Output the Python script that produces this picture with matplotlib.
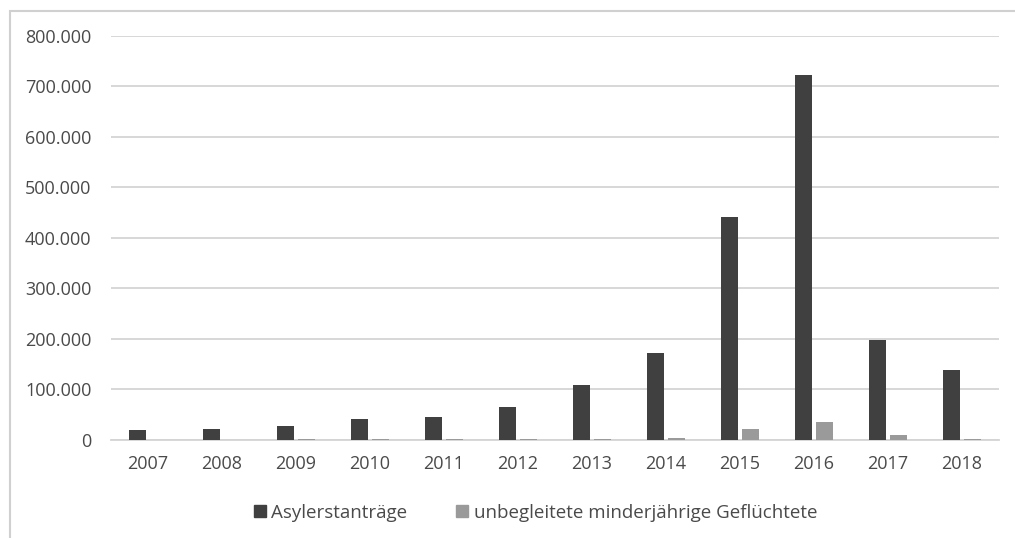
import matplotlib
matplotlib.use("Agg")
import matplotlib.pyplot as plt
from matplotlib.patches import Rectangle
from matplotlib.lines import Line2D
from matplotlib.ticker import FuncFormatter
import numpy as np

plt.rcParams['font.family'] = ['Open Sans', 'DejaVu Sans']

years = ['2007', '2008', '2009', '2010', '2011', '2012',
         '2013', '2014', '2015', '2016', '2017', '2018']
asylerstantraege = [19164, 22085, 27649, 41332, 45741, 64539,
                    109580, 173072, 441899, 722370, 198317, 138000]
unbegleitete_minderjaehrige = [180, 763, 1304, 1948, 2126, 2096,
                               2486, 4399, 22255, 35939, 9084, 1500]
series_labels = ['Asylerstanträge', 'unbegleitete minderjährige Geflüchtete']
y_ticks = [0, 100000, 200000, 300000, 400000, 500000, 600000, 700000, 800000]

dark = '#404040'
light = '#9a9a9a'
grid_c = '#d4d4d4'
text_c = '#4a4a4a'
fs = 13

W, H = 1015, 538
fig = plt.figure(figsize=(W / 100, H / 100), dpi=100)

# chart frame, running off the right and bottom edges
fig.patches.append(Rectangle((10 / W, -0.05), 1.2, 1 - 11 / H + 0.05,
                             transform=fig.transFigure, fill=False,
                             edgecolor='#d0d0d0', linewidth=1.5))

ax = fig.add_axes([111 / W, 1 - 440 / H, 888 / W, (440 - 35.7) / H])
x = np.arange(len(years))
bw = 0.223
off = 0.142
ax.bar(x - off, asylerstantraege, width=bw, color=dark, zorder=3)
ax.bar(x + off, unbegleitete_minderjaehrige, width=bw, color=light, zorder=3)

ax.set_xlim(-0.5, len(years) - 0.5)
ax.set_ylim(0, 800000)
ax.set_yticks(y_ticks)
ax.yaxis.set_major_formatter(FuncFormatter(lambda v, p: '0' if v == 0 else f'{int(v):,}'.replace(',', '.')))
ax.set_xticks(x)
ax.set_xticklabels(years)
ax.grid(axis='y', color=grid_c, linewidth=1.3, zorder=0)
for s in ['top', 'right', 'left']:
    ax.spines[s].set_visible(False)
ax.spines['bottom'].set_color(grid_c)
ax.spines['bottom'].set_linewidth(1.3)
ax.spines['bottom'].set_zorder(2)
ax.tick_params(axis='both', length=0, labelsize=fs, labelcolor=text_c)
ax.tick_params(axis='y', pad=14)
ax.tick_params(axis='x', pad=11)

handles = [Line2D([], [], linestyle='none', marker='s', markersize=8,
                  markerfacecolor=dark, markeredgecolor=dark),
           Line2D([], [], linestyle='none', marker='s', markersize=8,
                  markerfacecolor=light, markeredgecolor=light)]
leg = fig.legend(handles, series_labels, loc='center', bbox_to_anchor=(535 / W, 1 - 513 / H),
                 ncol=2, frameon=False, fontsize=13.5, handlelength=0.7,
                 handletextpad=0.25, columnspacing=2.6)
for t in leg.get_texts():
    t.set_color(text_c)

fig.savefig('out.png', dpi=100, facecolor='white')
